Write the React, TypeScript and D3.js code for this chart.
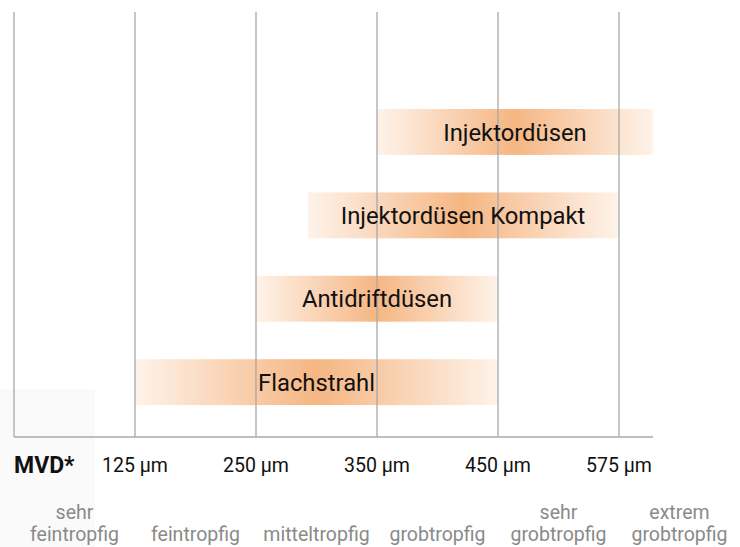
import React from "react";
import * as d3 from "d3";

const boundaries = [0, 125, 250, 350, 450, 575];
const tickLabels = ["125 µm", "250 µm", "350 µm", "450 µm", "575 µm"];
const tickValues = [125, 250, 350, 450, 575];
const categoryLines = [
  ["sehr", "feintropfig"],
  ["", "feintropfig"],
  ["", "mitteltropfig"],
  ["", "grobtropfig"],
  ["sehr", "grobtropfig"],
  ["extrem", "grobtropfig"],
];
const categoryCenters = [62.5, 187.5, 300, 400, 512.5, 637.5];
const nozzles = ["Injektordüsen", "Injektordüsen Kompakt", "Antidriftdüsen", "Flachstrahl"];
const rangeStart = [350, 293, 250, 125];
const rangeEnd = [610, 574, 450, 450];

const W = 740;
const H = 547;
const FONT = "Roboto, 'Open Sans', sans-serif";

export default function App() {
  const x = d3.scaleLinear().domain(boundaries).range([14, 135, 256, 377, 498, 619]);
  const xe = (v: number) => {
    if (v <= 575) return x(v);
    return x(575) + (v - 575) * (121 / 125);
  };
  const y = d3.scaleBand<string>().domain(nozzles).range([71.5, 442.6]).padding(0.45);
  const baseY = 437;
  const topY = 12;
  const axisEnd = 653;

  return (
    <svg width={W} height={H} style={{ position: "absolute", left: 0, top: 0, background: "#fff" }}>
      <defs>
        <linearGradient id="bargrad" x1="0" x2="1" y1="0" y2="0">
          <stop offset="0%" stopColor="#fef3ea" />
          <stop offset="50%" stopColor="#f5b683" />
          <stop offset="100%" stopColor="#fef3ea" />
        </linearGradient>
      </defs>
      <rect x={0} y={389} width={95} height={H - 389} fill="#fafafa" />
      {nozzles.map((n, i) => (
        <rect
          key={n}
          x={xe(rangeStart[i])}
          y={y(n)}
          width={xe(rangeEnd[i]) - xe(rangeStart[i])}
          height={y.bandwidth()}
          fill="url(#bargrad)"
        />
      ))}
      {boundaries.map((b) => (
        <line key={b} x1={x(b)} x2={x(b)} y1={topY} y2={baseY} stroke="#a8a8a8" strokeWidth={1.3} />
      ))}
      <line x1={14} x2={axisEnd} y1={baseY} y2={baseY} stroke="#a8a8a8" strokeWidth={1.3} />
      {nozzles.map((n, i) => (
        <text
          key={n}
          x={(xe(rangeStart[i]) + xe(rangeEnd[i])) / 2}
          y={(y(n) as number) + y.bandwidth() / 2}
          dy="0.36em"
          textAnchor="middle"
          fontFamily={FONT}
          fontSize={23.8}
          fill="#111"
        >
          {n}
        </text>
      ))}
      <text x={14} y={473} fontFamily={FONT} fontSize={23} fontWeight="bold" fill="#111">
        MVD*
      </text>
      {tickValues.map((t, i) => (
        <text key={t} x={x(t)} y={472} textAnchor="middle" fontFamily={FONT} fontSize={19.5} fill="#111">
          {tickLabels[i]}
        </text>
      ))}
      {categoryLines.map((c, i) => (
        <g key={i} fontFamily={FONT} fontSize={19.5} fill="#8a8a8a" textAnchor="middle">
          {c[0] && (
            <text x={xe(categoryCenters[i])} y={519}>
              {c[0]}
            </text>
          )}
          <text x={xe(categoryCenters[i])} y={541}>
            {c[1]}
          </text>
        </g>
      ))}
    </svg>
  );
}
